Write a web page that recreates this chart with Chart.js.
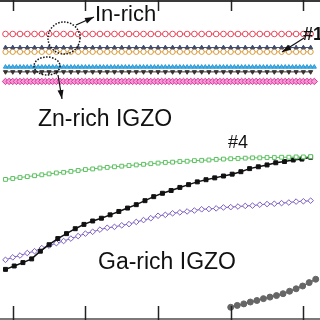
<!DOCTYPE html>
<html>
<head>
<meta charset="utf-8">
<script src="https://cdn.jsdelivr.net/npm/chart.js@4/dist/chart.umd.min.js"></script>
<style>
  html, body { margin: 0; padding: 0; background: #fff; overflow: hidden; }
  #wrap { width: 320px; height: 320px; }
</style>
</head>
<body>
<div id="wrap"><canvas id="chart" width="320" height="320"></canvas></div>
<script>
// x positions (shared sampling grids)
const xStep1 = [-1,0,1,2,3,4,5,6,7,8,
  9,10,11,12,13,14,15,16,17,18,
  19,20,21,22,23,24,25,26,27,28,
  29,30,31,32,33,34,35,36,37,38,
  39,40,41];
const xHalf = [-1,-0.5,0,0.5,1,1.5,2,2.5,3,3.5,
  4,4.5,5,5.5,6,6.5,7,7.5,8,8.5,
  9,9.5,10,10.5,11,11.5,12,12.5,13,13.5,
  14,14.5,15,15.5,16,16.5,17,17.5,18,18.5,
  19,19.5,20,20.5,21,21.5,22,22.5,23,23.5,
  24,24.5,25,25.5,26,26.5,27,27.5,28,28.5,
  29,29.5,30,30.5,31,31.5,32,32.5,33,33.5,
  34,34.5,35,35.5,36,36.5,37,37.5,38,38.5,
  39,39.5,40,40.5,41,41.5];
const xBlack = [-1,0.2,1.4,2.6,3.8,5,6.2,7.4,8.6,9.8,
  11,12.2,13.4,14.6,15.8,17,18.2,19.4,20.6,21.8,
  23,24.2,25.4,26.6,27.8,29,30.2,31.4,32.6,33.8,
  35,36.2,37.4,38.6,39.8,41];
const xGray = [30,30.9,31.8,32.7,33.6,34.5,35.4,36.3,37.2,38.1,39,39.9,40.8,41.7];

// axis ticks
const tickValues = [0, 10, 20, 30, 40];

// In-rich / Zn-rich series (flat)
const redIn = [90.9,90.9,90.9,90.9,90.9,90.9,90.9,90.9,90.9,90.9,
  90.9,90.9,90.9,90.9,90.9,90.9,90.9,90.9,90.9,90.9,
  90.9,90.9,90.9,90.9,90.9,90.9,90.9,90.9,90.9,90.9,
  90.9,90.9,90.9,90.9,90.9,90.9,90.9,90.9,90.9,90.9,
  90.9,90.9,90.9];
const navy1 = [86.5,86.5,86.5,86.5,86.5,86.5,86.5,86.5,86.5,86.5,
  86.5,86.5,86.5,86.5,86.5,86.5,86.5,86.5,86.5,86.5,
  86.5,86.5,86.5,86.5,86.5,86.5,86.5,86.5,86.5,86.5,
  86.5,86.5,86.5,86.5,86.5,86.5,86.5,86.5,86.5,86.5,
  86.5,86.5,86.5];
const orange1 = [85.1,85.1,85.1,85.1,85.1,85.1,85.1,85.1,85.1,85.1,
  85.1,85.1,85.1,85.1,85.1,85.1,85.1,85.1,85.1,85.1,
  85.1,85.1,85.1,85.1,85.1,85.1,85.1,85.1,85.1,85.1,
  85.1,85.1,85.1,85.1,85.1,85.1,85.1,85.1,85.1,85.1,
  85.1,85.1,85.1];
const cyanZn = [80.2,80.2,80.2,80.2,80.2,80.2,80.2,80.2,80.2,80.2,
  80.2,80.2,80.2,80.2,80.2,80.2,80.2,80.2,80.2,80.2,
  80.2,80.2,80.2,80.2,80.2,80.2,80.2,80.2,80.2,80.2,
  80.2,80.2,80.2,80.2,80.2,80.2,80.2,80.2,80.2,80.2,
  80.2,80.2,80.2,80.2,80.2,80.2,80.2,80.2,80.2,80.2,
  80.2,80.2,80.2,80.2,80.2,80.2,80.2,80.2,80.2,80.2,
  80.2,80.2,80.2,80.2,80.2,80.2,80.2,80.2,80.2,80.2,
  80.2,80.2,80.2,80.2,80.2,80.2,80.2,80.2,80.2,80.2,
  80.2,80.2,80.2,80.2,80.2,80.2];
const brownZn = [78.6,78.6,78.6,78.6,78.6,78.6,78.6,78.6,78.6,78.6,
  78.6,78.6,78.6,78.6,78.6,78.6,78.6,78.6,78.6,78.6,
  78.6,78.6,78.6,78.6,78.6,78.6,78.6,78.6,78.6,78.6,
  78.6,78.6,78.6,78.6,78.6,78.6,78.6,78.6,78.6,78.6,
  78.6,78.6,78.6];
const magentaZn = [75.5,75.5,75.5,75.5,75.5,75.5,75.5,75.5,75.5,75.5,
  75.5,75.5,75.5,75.5,75.5,75.5,75.5,75.5,75.5,75.5,
  75.5,75.5,75.5,75.5,75.5,75.5,75.5,75.5,75.5,75.5,
  75.5,75.5,75.5,75.5,75.5,75.5,75.5,75.5,75.5,75.5,
  75.5,75.5,75.5,75.5,75.5,75.5,75.5,75.5,75.5,75.5,
  75.5,75.5,75.5,75.5,75.5,75.5,75.5,75.5,75.5,75.5,
  75.5,75.5,75.5,75.5,75.5,75.5,75.5,75.5,75.5,75.5,
  75.5,75.5,75.5,75.5,75.5,75.5,75.5,75.5,75.5,75.5,
  75.5,75.5,75.5,75.5,75.5,75.5];

// Ga-rich series
const green4 = [43.7,44.0,44.3,44.6,44.9,45.2,45.5,45.8,46.0,46.3,
  46.6,46.9,47.1,47.4,47.6,47.8,48.0,48.2,48.4,48.6,
  48.8,49.0,49.2,49.3,49.5,49.6,49.8,49.9,50.0,50.2,
  50.3,50.4,50.5,50.6,50.7,50.7,50.8,50.8,50.9,50.9,
  51.0,51.0,51.1];
const blackGa = [14.5,15.6,16.7,17.9,20.4,22.5,24.5,26.1,27.7,29.1,
  30.2,31.1,32.2,33.3,34.4,35.5,36.8,38.1,39.2,40.1,
  41.1,42.0,42.9,43.6,44.2,44.8,45.4,46.2,47.2,47.8,
  48.4,49.1,49.5,50.0,50.3,50.9];
const purpleGa = [17.6,18.4,19.0,19.8,20.4,21.4,22.2,23.0,23.7,24.5,
  25.3,26.1,26.7,27.4,28.0,28.3,28.8,29.2,29.9,30.5,
  31.1,31.9,32.2,32.7,33.0,33.3,33.6,34.0,34.1,34.3,
  34.6,34.7,34.9,35.1,35.2,35.5,35.7,35.8,36.0,36.2,
  36.5,36.6,36.8];
const grayGa = [2.2,2.8,3.3,3.9,4.4,5.0,5.5,6.0,6.6,7.4,8.2,9.1,10.2,11.3];

const pts = (xs, ys) => xs.map((x, i) => ({ x: x, y: ys[i] }));

// frame, inward ticks, notes
const annot = {
  id: 'annot',
  afterDatasetsDraw(chart) {
    const ctx = chart.ctx;
    const sx = chart.scales.x;
    ctx.save();

    // frame lines
    ctx.lineWidth = 2;
    ctx.strokeStyle = '#3a3a3a';
    ctx.beginPath(); ctx.moveTo(0, 1); ctx.lineTo(320, 1); ctx.stroke();
    ctx.strokeStyle = '#7a7a7a';
    ctx.beginPath(); ctx.moveTo(0, 319); ctx.lineTo(320, 319); ctx.stroke();

    // inward ticks
    ctx.lineWidth = 1.5;
    ctx.strokeStyle = '#222';
    tickValues.forEach(v => {
      const px = Math.round(sx.getPixelForValue(v)) + 0.5;
      ctx.beginPath(); ctx.moveTo(px, 0); ctx.lineTo(px, 11); ctx.stroke();
      ctx.beginPath(); ctx.moveTo(px, 306); ctx.lineTo(px, 320); ctx.stroke();
    });

    // dotted circles
    ctx.setLineDash([1.5, 1.5]);
    ctx.lineWidth = 1.5;
    ctx.strokeStyle = '#111';
    ctx.beginPath(); ctx.ellipse(64, 38, 16, 16, 0, 0, Math.PI * 2); ctx.stroke();
    ctx.beginPath(); ctx.ellipse(47, 66, 13, 9, 0, 0, Math.PI * 2); ctx.stroke();
    ctx.setLineDash([]);

    // arrows
    const arrow = (x1, y1, x2, y2) => {
      ctx.lineWidth = 1.2;
      ctx.strokeStyle = '#111';
      ctx.fillStyle = '#111';
      ctx.beginPath(); ctx.moveTo(x1, y1); ctx.lineTo(x2, y2); ctx.stroke();
      const a = Math.atan2(y2 - y1, x2 - x1);
      ctx.beginPath();
      ctx.moveTo(x2, y2);
      ctx.lineTo(x2 - 9 * Math.cos(a) + 3 * Math.sin(a), y2 - 9 * Math.sin(a) - 3 * Math.cos(a));
      ctx.lineTo(x2 - 9 * Math.cos(a) - 3 * Math.sin(a), y2 - 9 * Math.sin(a) + 3 * Math.cos(a));
      ctx.closePath(); ctx.fill();
    };
    arrow(76, 25, 94, 17);
    arrow(58, 75, 62, 99);
    arrow(304, 38, 282, 52);

    // labels
    ctx.fillStyle = '#111';
    ctx.textBaseline = 'alphabetic';
    ctx.font = '22px "Liberation Sans", Arial, sans-serif';
    ctx.fillText('In-rich', 95, 21);
    ctx.font = '23px "Liberation Sans", Arial, sans-serif';
    ctx.fillText('Zn-rich IGZO', 38, 126);
    ctx.fillText('Ga-rich IGZO', 98, 269);
    ctx.font = '18px "Liberation Sans", Arial, sans-serif';
    ctx.fillText('#4', 228, 148);
    ctx.font = 'bold 18px "Liberation Sans", Arial, sans-serif';
    ctx.fillText('#1', 303, 40);
    ctx.restore();
  }
};

new Chart(document.getElementById('chart').getContext('2d'), {
  type: 'line',
  plugins: [annot],
  data: {
    datasets: [
      { data: pts(xStep1, redIn), borderColor: '#e8485a', borderWidth: 1,
        pointStyle: 'circle', pointRadius: 2.8, pointBorderWidth: 1,
        pointBackgroundColor: '#fff', pointBorderColor: '#e8485a' },
      { data: pts(xStep1, navy1), borderColor: '#3c4a70', borderWidth: 1,
        pointStyle: 'triangle', pointRadius: 2.4, pointBorderWidth: 1,
        pointBackgroundColor: '#3c4a70', pointBorderColor: '#3c4a70' },
      { data: pts(xStep1, orange1), borderColor: '#e0a040', borderWidth: 1,
        pointStyle: 'circle', pointRadius: 2.6, pointBorderWidth: 1,
        pointBackgroundColor: '#fff', pointBorderColor: '#d99a38' },
      { data: pts(xHalf, cyanZn), borderColor: '#2a8fd0', borderWidth: 1,
        pointStyle: 'triangle', pointRadius: 2.4, pointBorderWidth: 1,
        pointBackgroundColor: '#48b8e8', pointBorderColor: '#2a98d8' },
      { data: pts(xStep1, brownZn), borderColor: '#3a3030', borderWidth: 1,
        pointStyle: 'triangle', pointRotation: 180, pointRadius: 2.4, pointBorderWidth: 1,
        pointBackgroundColor: '#3a3030', pointBorderColor: '#3a3030' },
      { data: pts(xHalf, magentaZn), borderColor: '#d8389c', borderWidth: 1,
        pointStyle: 'rectRot', pointRadius: 3.2, pointBorderWidth: 1,
        pointBackgroundColor: '#f59ad6', pointBorderColor: '#d8389c' },
      { data: pts(xStep1, green4), borderColor: '#5cc060', borderWidth: 1,
        pointStyle: 'rect', pointRadius: 2.7, pointBorderWidth: 1,
        pointBackgroundColor: '#fff', pointBorderColor: '#5cc060' },
      { data: pts(xBlack, blackGa), borderColor: '#111', borderWidth: 1.5,
        pointStyle: 'rect', pointRadius: 2.8, pointBorderWidth: 1,
        pointBackgroundColor: '#111', pointBorderColor: '#111' },
      { data: pts(xStep1, purpleGa), borderColor: '#7a5cc0', borderWidth: 1,
        pointStyle: 'rectRot', pointRadius: 2.8, pointBorderWidth: 1,
        pointBackgroundColor: '#fff', pointBorderColor: '#7a5cc0' },
      { data: pts(xGray, grayGa), borderColor: '#666', borderWidth: 1.5,
        pointStyle: 'circle', pointRadius: 3, pointBorderWidth: 1,
        pointBackgroundColor: '#666', pointBorderColor: '#666' }
    ]
  },
  options: {
    responsive: false,
    devicePixelRatio: 1,
    animation: false,
    clip: false,
    layout: { padding: 0 },
    plugins: { legend: { display: false }, tooltip: { enabled: false } },
    scales: {
      x: { type: 'linear', min: -1.0667, max: 41.6, display: false },
      y: { type: 'linear', min: -0.31, max: 100.31, display: false }
    }
  }
});
</script>
</body>
</html>
